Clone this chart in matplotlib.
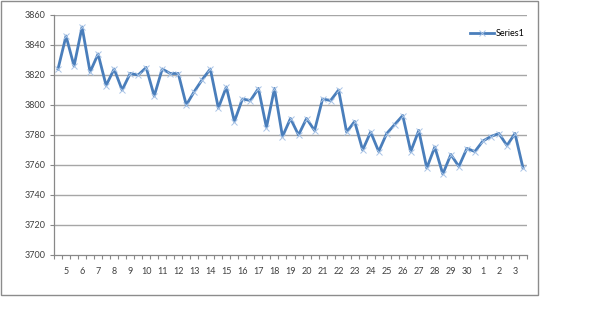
import matplotlib
matplotlib.use("Agg")
import matplotlib.pyplot as plt
from matplotlib.patches import Rectangle

# one value per half day, 59 points
values = [3824, 3846, 3826, 3852, 3822, 3834, 3813, 3824, 3810, 3821,
          3820, 3825, 3806, 3824, 3821, 3821, 3800, 3809, 3817, 3824,
          3798, 3812, 3789, 3804, 3803, 3811, 3785, 3811, 3779, 3791,
          3780, 3791, 3783, 3804, 3803, 3810, 3782, 3789, 3770, 3782,
          3769, 3781, 3787, 3793, 3769, 3783, 3758, 3772, 3754, 3767,
          3759, 3771, 3769, 3776, 3779, 3781, 3773, 3781, 3758]

day_labels = ['5', '6', '7', '8', '9', '10', '11', '12', '13', '14', '15',
              '16', '17', '18', '19', '20', '21', '22', '23', '24', '25',
              '26', '27', '28', '29', '30', '1', '2', '3']

y_ticks = [3700, 3720, 3740, 3760, 3780, 3800, 3820, 3840, 3860]

font = ['Lato', 'DejaVu Sans']
grey = '#a6a6a6'

fig = plt.figure(figsize=(6, 3.36), dpi=100)
ax = fig.add_axes([54 / 600, 81 / 336, 473 / 600, 240 / 336])

x = list(range(len(values)))
ax.plot(x, values, color='#4a7ebb', lw=2.0, marker='x', ms=5,
        mec='#a9c4e6', mew=0.7, label='Series1')

ax.set_xlim(-0.5, len(values) - 0.5)
ax.set_ylim(3700, 3860)

# y axis
ax.set_yticks(y_ticks)
ax.set_yticklabels([str(v) for v in y_ticks], family=font, fontsize=6.5,
                   color='#404040')
ax.tick_params(axis='y', length=3, width=0.8, color='#888888', pad=3)
for v in y_ticks[1:]:
    ax.axhline(v, color=grey, lw=1, zorder=0)

# x axis: tick marks between categories, labels every other point
ax.set_xticks([i - 0.5 for i in range(len(values) + 1)])
ax.set_xticklabels([])
ax.tick_params(axis='x', which='major', length=3, width=0.8, color='#888888')
ax.set_xticks([2 * k + 1 for k in range(len(day_labels))], minor=True)
ax.set_xticklabels(day_labels, minor=True, family=font, fontsize=6.5,
                   color='#404040')
ax.tick_params(axis='x', which='minor', length=0, pad=9)

for s in ['top', 'right']:
    ax.spines[s].set_visible(False)
for s in ['left', 'bottom']:
    ax.spines[s].set_color('#888888')
    ax.spines[s].set_linewidth(0.9)

leg = ax.legend(loc='center right', bbox_to_anchor=(529 / 600, 1 - 34 / 336),
                bbox_transform=fig.transFigure, frameon=False,
                prop={'family': font, 'size': 6.5}, handlelength=2.6,
                handletextpad=0.2, borderpad=0)

# chart border
fig.patches.append(Rectangle((0.5 / 600, 41 / 336), 537 / 600, 294 / 336,
                             transform=fig.transFigure, fill=False,
                             edgecolor='#8c8c8c', lw=1))

fig.savefig('out.png', dpi=100)
